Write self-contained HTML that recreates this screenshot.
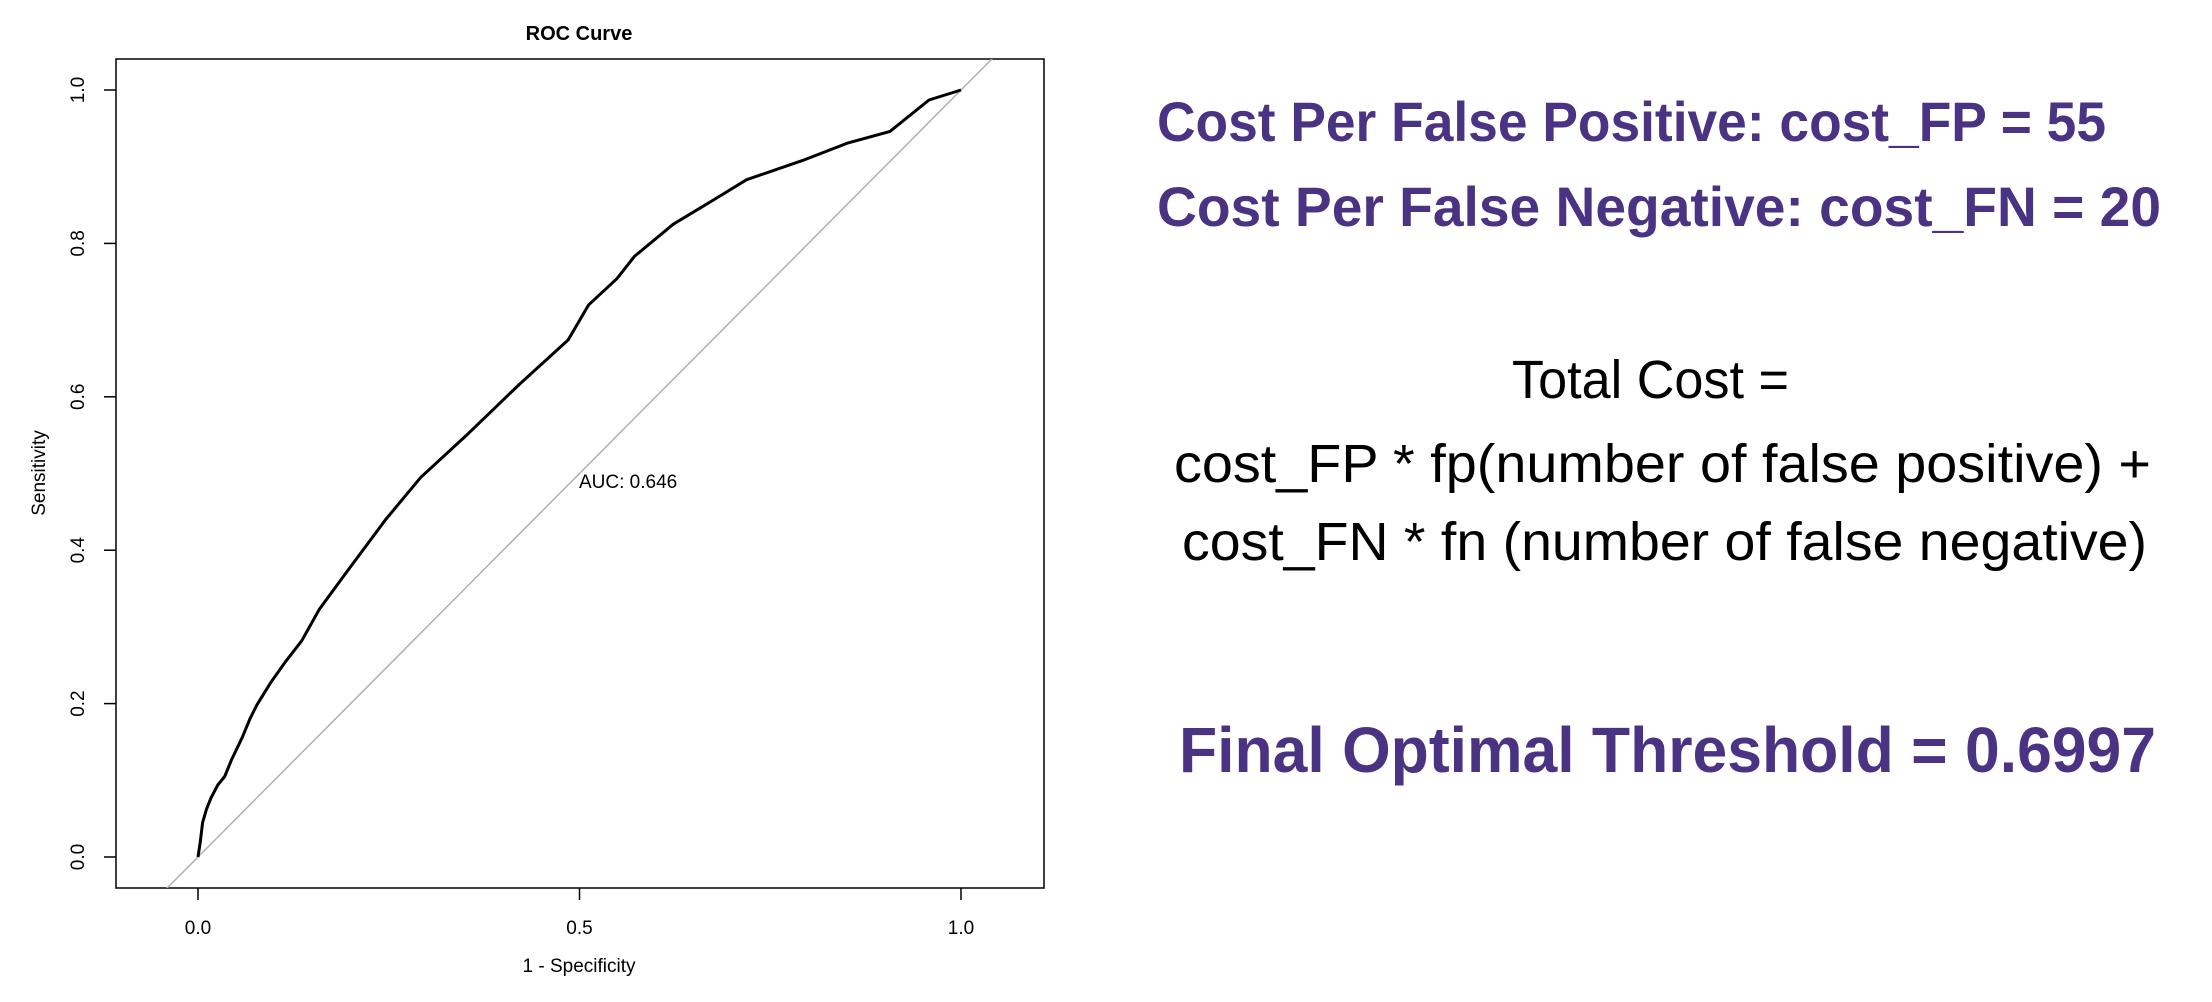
<!DOCTYPE html>
<html><head><meta charset="utf-8"><style>html,body{margin:0;padding:0;background:#fff}svg{display:block}</style></head>
<body>
<svg id="chart" width="2212" height="1002" viewBox="0 0 2212 1002" xmlns="http://www.w3.org/2000/svg" font-family="Liberation Sans, sans-serif">
<rect width="2212" height="1002" fill="#fff"/>
<text x="579" y="40" text-anchor="middle" font-size="20" font-weight="bold">ROC Curve</text>
<defs><clipPath id="clip"><rect x="116" y="59" width="928" height="829"/></clipPath></defs>
<rect x="116" y="59" width="928" height="829" fill="none" stroke="#000" stroke-width="1.5"/>
<g id="axes"></g>
<g id="marks" clip-path="url(#clip)"></g>
<text x="579" y="488" font-size="19">AUC: 0.646</text>
<text x="579" y="972" text-anchor="middle" font-size="19">1 - Specificity</text>
<text transform="translate(45,473) rotate(-90)" text-anchor="middle" font-size="19">Sensitivity</text>

<g fill="#4a3383" font-weight="bold" font-family="Liberation Sans, sans-serif">
<text x="1157" y="141" font-size="56" textLength="949" lengthAdjust="spacingAndGlyphs">Cost Per False Positive: cost_FP = 55</text>
<text x="1157" y="226" font-size="56" textLength="1004" lengthAdjust="spacingAndGlyphs">Cost Per False Negative: cost_FN = 20</text>
<text x="1179" y="772" font-size="64" textLength="977" lengthAdjust="spacingAndGlyphs">Final Optimal Threshold = 0.6997</text>
</g>
<g fill="#000" font-family="Liberation Sans, sans-serif" font-size="54">
<text x="1512" y="398" textLength="277" lengthAdjust="spacingAndGlyphs">Total Cost =</text>
<text x="1174" y="482" textLength="977" lengthAdjust="spacingAndGlyphs">cost_FP * fp(number of false positive) +</text>
<text x="1182" y="560" textLength="965" lengthAdjust="spacingAndGlyphs">cost_FN * fn (number of false negative)</text>
</g>
</svg>
<script>
const fpr = [0,0.003,0.006,0.011,0.017,0.026,0.035,0.044,0.058,0.068,0.077,0.095,0.115,0.136,0.159,0.196,0.246,0.292,0.351,0.421,0.485,0.512,0.549,0.572,0.623,0.678,0.719,0.792,0.852,0.907,0.958,1];
const tpr = [0,0.02,0.045,0.062,0.077,0.094,0.105,0.127,0.156,0.18,0.198,0.227,0.255,0.282,0.323,0.373,0.44,0.495,0.549,0.616,0.674,0.72,0.754,0.783,0.825,0.858,0.883,0.908,0.931,0.946,0.987,1];
const xTicks = [0,0.5,1];
const xTickLabels = ["0.0","0.5","1.0"];
const yTicks = [0,0.2,0.4,0.6,0.8,1];
const yTickLabels = ["0.0","0.2","0.4","0.6","0.8","1.0"];
const NS='http://www.w3.org/2000/svg';
const X = v => 198 + v*763;
const Y = v => 857 - v*767;
const axes=document.getElementById('axes'), marks=document.getElementById('marks');
function mk(tag, attrs, parent){const e=document.createElementNS(NS,tag);for(const k in attrs)e.setAttribute(k,attrs[k]);parent.appendChild(e);return e;}
xTicks.forEach((t,i)=>{
  const l=mk('line',{x1:X(t),x2:X(t),y1:888,y2:900,stroke:'#000','stroke-width':1.5},axes);
  
  
  const tx=mk('text',{x:X(t),y:934,'text-anchor':'middle','font-size':19},axes);
  tx.textContent=xTickLabels[i];
  
  
});
yTicks.forEach((t,i)=>{
  const l=mk('line',{x1:104,x2:116,y1:Y(t),y2:Y(t),stroke:'#000','stroke-width':1.5},axes);
  
  
  const tx=mk('text',{transform:`translate(84,${Y(t)}) rotate(-90)`,'text-anchor':'middle','font-size':19},axes);
  tx.textContent=yTickLabels[i];
  
  
});
const diag=mk('line',{x1:X(-0.2),y1:Y(-0.2),x2:X(1.2),y2:Y(1.2),stroke:'#b0b0b0','stroke-width':1.5},marks);


const d=fpr.map((v,i)=>(i?'L':'M')+X(v).toFixed(1)+','+Y(tpr[i]).toFixed(1)).join('');
const p=mk('path',{d:d,fill:'none',stroke:'#000','stroke-width':3,'stroke-linejoin':'round'},marks);


</script>
</body></html>
